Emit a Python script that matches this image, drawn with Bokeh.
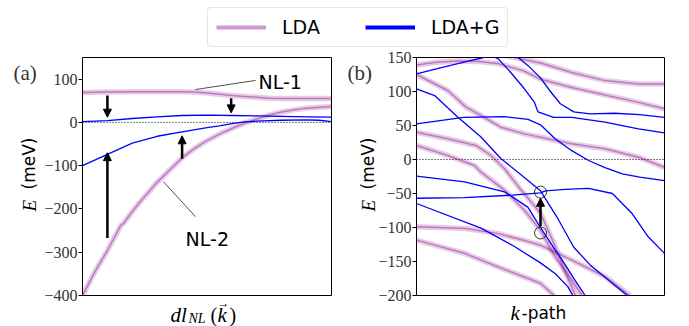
from bokeh.plotting import figure
from bokeh.models import (Legend, LegendItem, Label, Span, Arrow, NormalHead,
                          ColumnDataSource, FixedTicker, Range1d, GridBox)
from bokeh.layouts import row
from bokeh.embed import file_html
from bokeh.resources import INLINE
from bokeh.core.properties import value

SERIF = "Liberation Serif"
SANS = "DejaVu Sans"
PINK = "#800080"
BLUE = "#0000ff"
NAN = float("nan")

# ---------------- panel (a) data ----------------
a_ticks = [-400, -300, -200, -100, 0, 100]
a_tick_labels = ["\u2212400", "\u2212300", "\u2212200", "\u2212100", "0", "100"]

nl1_x = [0, 0.1, 0.2, 0.3, 0.4, 0.45, 0.5, 0.55, 0.6, 0.65, 0.7, 0.75, 0.8, 0.9, 1.0]
nl1_y = [69, 70, 71, 71, 71, 70, 68, 65, 62, 60, 58, 56, 55, 55, 55]

nl2_x = [0, 0.05, 0.1, 0.154, 0.165, 0.2, 0.235, 0.3, 0.32, 0.35, 0.4, 0.45, 0.5,
         0.55, 0.6, 0.65, 0.7, 0.75, 0.8, 0.85, 0.9, 1.0]
nl2_y = [-400, -345, -296, -238, -233, -206, -181, -138, -127, -110, -82, -60, -42,
         -27, -14, -2, 8, 17, 24, 29, 33, 37]

g1_x = [0, 0.1, 0.2, 0.3, 0.4, 0.5, 0.6, 0.7, 0.8, 0.9, 1.0]
g1_y = [2, 4, 9, 13, 16, 17, 16, 15, 14, 13, 12]

g2_x = [0, 0.1, 0.2, 0.3, 0.4, 0.5, 0.55, 0.6, 0.65, 0.7, 0.8, 0.9, 0.95, 1.0]
g2_y = [-100, -74, -48, -32, -22, -12, -8, -3, 1, 3, 5, 6, 5, 2]

a_arrow_x = [0.1, 0.597, 0.1, 0.4]
a_arrow_y0 = [62, 56, -267, -84]
a_arrow_y1 = [12, 22, -70, -31]

nl_text = ["NL-1", "NL-2"]
nl_text_x = [0.707, 0.414]
nl_text_y = [93, -270]
nl_line_x0 = [0.695, 0.454]
nl_line_y0 = [97, -218]
nl_line_x1 = [0.454, 0.325]
nl_line_y1 = [76, -137]

# ---------------- panel (b) data ----------------
b_ticks = [-200, -150, -100, -50, 0, 50, 100, 150]
b_tick_labels = ["\u2212200", "\u2212150", "\u2212100", "\u221250", "0", "50", "100", "150"]

lda_b = [
    ([0, 0.08, 0.167, 0.25, 0.33, 0.435, 0.5, 0.626, 0.76, 0.895, 1.0],
     [139, 143, 145, 144, 141, 130, 118, 106, 95, 84, 74.5]),
    ([0.33, 0.395, 0.5, 0.626, 0.76, 0.895, 1.0],
     [155, 150, 142, 128, 116, 111, 111]),
    ([0, 0.126, 0.2, 0.26, 0.34, 0.435, 0.5, 0.626, 0.76, 0.895, 1.0],
     [125, 101.5, 77, 64.7, 47.5, 37.7, 32.8, 23, 15.7, 3.4, -11.5]),
    ([0, 0.126, 0.24, 0.30, 0.355, 0.422, 0.5, 0.55, 0.6, 0.64],
     [40, 30.5, 20.6, 6, -13.7, -45, -79, -120, -165, -200]),
    ([0, 0.126, 0.234, 0.26, 0.355, 0.435, 0.5, 0.559, 0.626, 0.667],
     [20.6, 5.9, -8.8, -18.6, -45, -74.5, -104, -143, -177, -200]),
    ([0, 0.2, 0.33, 0.435, 0.5, 0.626, 0.76, 0.86],
     [-99, -101.5, -109, -119, -126, -148, -172, -200]),
    ([0, 0.194, 0.33, 0.5, 0.555],
     [-118.6, -138, -158, -182, -200]),
]

ldag_b = [
    ([0, 0.1, 0.2, 0.27, 0.3, 0.33, 0.38, 0.435, 0.475, 0.49, 0.553, 0.626, 0.76, 0.895, 1.0],
     [126, 135, 144, 150, 153, 148, 128, 104, 84.5, 70, 62, 62, 55, 45, 39]),
    ([0.40, 0.41, 0.45, 0.5, 0.54, 0.58, 0.634, 0.7, 0.8, 0.9, 1.0],
     [156, 150, 138, 120, 100, 82, 70, 67, 68, 66, 62]),
    ([0, 0.19, 0.355, 0.45, 0.5, 0.559, 0.626, 0.694, 0.76, 0.83, 0.9, 1.0],
     [52.5, 62, 63, 59, 51, 30.5, 13, -1.5, -12, -21, -26, -31]),
    ([0, 0.073, 0.167, 0.26, 0.34, 0.42, 0.5, 0.567, 0.634, 0.7, 0.76, 0.85],
     [104, 94, 62, 33, 1.5, -22, -46, -85, -129, -155, -173, -200]),
    ([0, 0.194, 0.387, 0.5, 0.52, 0.6, 0.694, 0.79, 0.868, 0.935, 1.0],
     [-57, -56, -52.4, -49, -46, -44, -42.6, -50, -79, -114, -138]),
    ([0, 0.194, 0.355, 0.449, 0.5, 0.55, 0.6, 0.64, 0.68],
     [-24.5, -33, -47.5, -70, -100, -128, -155, -178, -200]),
    ([0, 0.26, 0.395, 0.5, 0.56, 0.61, 0.63],
     [-64.7, -101, -128, -152, -168, -187, -200]),
]

circle_x = [0.5, 0.5]
circle_y = [-48, -108]
b_arrow_x = [0.5]
b_arrow_y0 = [-98]
b_arrow_y1 = [-57]

legend_labels = ["LDA", "LDA+G"]

W, H = 689, 326


def make_panel(width, min_left, min_right, yr, ticks, tick_labels):
    p = figure(width=width, height=H, x_range=Range1d(0, 1), y_range=Range1d(*yr),
               output_backend="svg", toolbar_location=None,
               min_border_left=min_left, min_border_right=min_right,
               min_border_top=57, min_border_bottom=31)
    p.xaxis.visible = False
    p.grid.visible = False
    p.outline_line_color = "black"
    p.outline_line_width = 1
    p.outline_line_alpha = 1
    p.background_fill_color = "white"
    p.border_fill_color = "white"
    yax = p.yaxis[0]
    yax.ticker = FixedTicker(ticks=ticks)
    yax.major_label_overrides = {t: lab for t, lab in zip(ticks, tick_labels)}
    yax.axis_line_color = None
    yax.major_tick_out = 4
    yax.major_tick_in = 0
    yax.major_tick_line_color = "black"
    yax.minor_tick_line_color = None
    yax.major_label_text_font = SERIF
    yax.major_label_text_font_size = "16px"
    yax.major_label_text_color = "#333333"
    yax.major_label_standoff = 1
    p.add_layout(Span(location=0, dimension="width", line_color="black",
                      line_dash="1 2", line_width=1, level="underlay"))
    return p


def lda(p, x, y):
    p.line(x, y, line_color=PINK, line_alpha=0.2, line_width=5.5)
    p.line(x, y, line_color=PINK, line_alpha=0.4, line_width=1.5)


def ldag(p, x, y):
    p.line(x, y, line_color=BLUE, line_width=1.3)


# ---------------- panel (a) ----------------
pa = make_panel(347, 82, 16, (-400, 150), a_ticks, a_tick_labels)
lda(pa, nl1_x, nl1_y)
lda(pa, nl2_x, nl2_y)
ldag(pa, g1_x, g1_y)
ldag(pa, g2_x, g2_y)
pa.add_layout(Arrow(end=NormalHead(size=8, fill_color="black", line_color="black", line_width=1),
                    x_start="x", y_start="y0", x_end="x", y_end="y1",
                    source=ColumnDataSource(dict(x=a_arrow_x, y0=a_arrow_y0, y1=a_arrow_y1)),
                    line_color="black", line_width=2.5))
pa.segment(nl_line_x0, nl_line_y0, nl_line_x1, nl_line_y1, line_color="black", line_width=0.7)
pa.text(nl_text_x, nl_text_y, text=nl_text, text_font=value(SANS), text_font_size="19px",
        text_baseline="alphabetic", text_align="left", text_color="black")

# ---------------- panel (b) ----------------
pb = make_panel(342, 69, 25, (-200, 150), b_ticks, b_tick_labels)
for x, y in lda_b:
    lda(pb, x, y)
for x, y in ldag_b:
    ldag(pb, x, y)
pb.scatter(circle_x, circle_y, marker="circle", size=12, fill_color=None,
           line_color="black", line_width=0.8)
pb.add_layout(Arrow(end=NormalHead(size=8, fill_color="black", line_color="black", line_width=1),
                    x_start="x", y_start="y0", x_end="x", y_end="y1",
                    source=ColumnDataSource(dict(x=b_arrow_x, y0=b_arrow_y0, y1=b_arrow_y1)),
                    line_color="black", line_width=2.5))

# ---------------- transparent overlay for free texts and the legend ----------------
ov = figure(width=W, height=H, output_backend="svg", toolbar_location=None,
            x_axis_type=None, y_axis_type=None, min_border=0,
            x_range=Range1d(0, W), y_range=Range1d(H, 0))
ov.outline_line_color = None
ov.grid.visible = False
ov.background_fill_alpha = 0
ov.border_fill_alpha = 0


def lab(x, y, text, font, size, italic=False, angle=0, color="black"):
    ov.add_layout(Label(x=x, y=y, text=text,
                        text_font=font, text_font_size=size,
                        text_font_style="italic" if italic else "normal",
                        text_color=color, text_baseline="alphabetic",
                        text_align="left", angle=angle, angle_units="deg"))


# panel tags
lab(13, 72, "(a)", SERIF, "21px", color="#333333")
lab(347, 72, "(b)", SERIF, "21px", color="#333333")
# y labels
for bx in (28.5, 367.5):
    lab(bx, 211, "E", SERIF, "19px", italic=True, angle=90)
    lab(bx, 189, "(meV)", SANS, "17px", angle=90)
# x label of (a)
lab(170, 314, "dl", SERIF, "21px", italic=True)
lab(188, 318, "NL", SERIF, "14px", italic=True)
lab(210, 314, "(", SERIF, "20px")
lab(217, 314, "k", SERIF, "21px", italic=True)
lab(217, 302, "\u2192", SERIF, "12px")
lab(229, 314, ")", SERIF, "20px")
# x label of (b)
lab(510, 312, "k", SERIF, "21px", italic=True)
lab(521, 312, "-path", SANS, "17px")

r1 = ov.line([NAN, NAN], [NAN, NAN], line_color="#cc99cc", line_width=4)
r2 = ov.line([NAN, NAN], [NAN, NAN], line_color=BLUE, line_width=4)
legend = Legend(items=[LegendItem(label=legend_labels[0], renderers=[r1]),
                       LegendItem(label=legend_labels[1], renderers=[r2])],
                orientation="horizontal", location=(207, H - 47),
                glyph_width=50, glyph_height=20, label_standoff=16, spacing=45,
                padding=8, margin=0,
                label_text_font=SANS, label_text_font_size="19px",
                label_text_color="black",
                border_line_color="#cccccc", border_line_width=1,
                background_fill_color="white", background_fill_alpha=1)
if "border_radius" in Legend.properties():
    legend.border_radius = 4
ov.add_layout(legend)

base = row(pa, pb)
layout = GridBox(children=[(base, 0, 0), (ov, 0, 0)])
open("out.html", "w").write(file_html(layout, INLINE))
